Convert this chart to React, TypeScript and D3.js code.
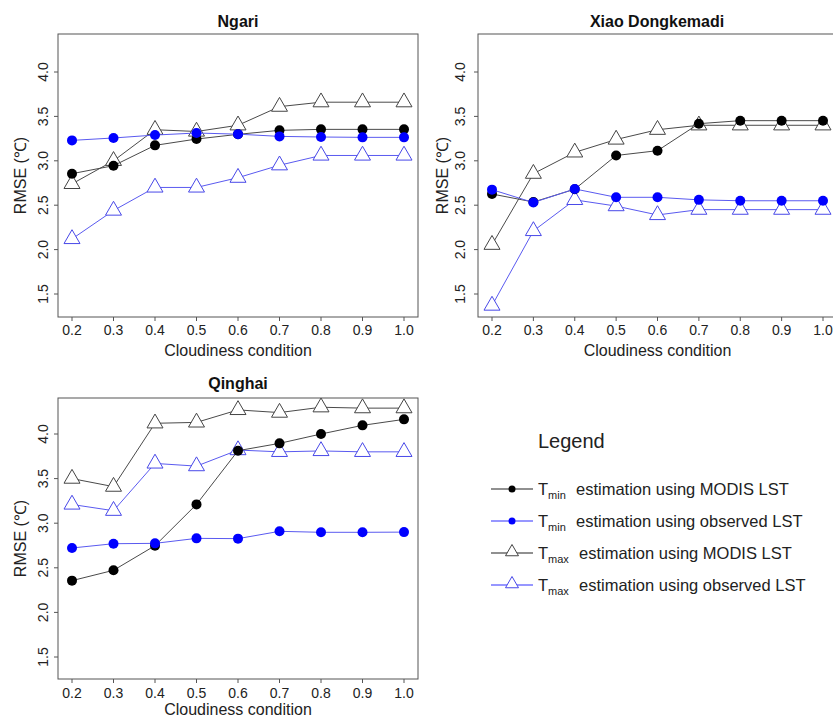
import React from "react";
import * as d3 from "d3";

const cloudiness = [0.2, 0.3, 0.4, 0.5, 0.6, 0.7, 0.8, 0.9, 1.0];
const xTickLabels = ["0.2", "0.3", "0.4", "0.5", "0.6", "0.7", "0.8", "0.9", "1.0"];
const yTicks = [1.5, 2.0, 2.5, 3.0, 3.5, 4.0];
const yTickLabels = ["1.5", "2.0", "2.5", "3.0", "3.5", "4.0"];

const panelTitles = ["Ngari", "Xiao Dongkemadi", "Qinghai"];

// Ngari
const ngariTminModis = [2.855, 2.945, 3.174, 3.245, 3.298, 3.343, 3.354, 3.354, 3.354];
const ngariTminObs = [3.23, 3.257, 3.29, 3.313, 3.3, 3.275, 3.268, 3.264, 3.264];
const ngariTmaxModis = [2.74, 3.0, 3.35, 3.33, 3.4, 3.61, 3.66, 3.66, 3.66];
const ngariTmaxObs = [2.12, 2.44, 2.7, 2.7, 2.81, 2.95, 3.06, 3.06, 3.06];

// Xiao Dongkemadi
const xiaoTminModis = [2.626, 2.536, 2.68, 3.06, 3.114, 3.418, 3.452, 3.452, 3.452];
const xiaoTminObs = [2.675, 2.53, 2.683, 2.589, 2.589, 2.56, 2.55, 2.55, 2.55];
const xiaoTmaxModis = [2.055, 2.855, 3.095, 3.24, 3.35, 3.4, 3.4, 3.4, 3.4];
const xiaoTmaxObs = [1.37, 2.21, 2.56, 2.49, 2.39, 2.45, 2.45, 2.45, 2.45];

// Qinghai
const qingTminModis = [2.356, 2.472, 2.748, 3.211, 3.813, 3.895, 4.0, 4.097, 4.164];
const qingTminObs = [2.722, 2.77, 2.774, 2.83, 2.827, 2.909, 2.898, 2.898, 2.9];
const qingTmaxModis = [3.5, 3.41, 4.12, 4.13, 4.27, 4.24, 4.3, 4.29, 4.29];
const qingTmaxObs = [3.21, 3.14, 3.67, 3.64, 3.82, 3.8, 3.81, 3.8, 3.8];

const legendSubs = ["min", "min", "max", "max"];
const legendTexts = [
  "estimation using MODIS LST",
  "estimation using observed LST",
  "estimation using MODIS LST",
  "estimation using observed LST",
];

const FONT = "Liberation Sans, Arial, Helvetica, sans-serif";
const BLACK_LINE = "#4a4a4a";
const BLUE_LINE = "#5a5af0";
const BLUE_FILL = "#0000ff";

type Layout = {
  boxL: number; boxR: number; boxT: number; boxB: number;
  x0: number; x1: number; y15: number; y40: number;
  tickLabelY: number; axisTitleY: number; titleY: number;
  yTickX: number; yTitleX: number;
};

const layouts: Layout[] = [
  { boxL: 58, boxR: 418, boxT: 34, boxB: 317, x0: 72, x1: 404, y15: 294, y40: 72, tickLabelY: 335, axisTitleY: 356, titleY: 27, yTickX: 43, yTitleX: 20 },
  { boxL: 478, boxR: 837, boxT: 34, boxB: 317, x0: 492, x1: 823, y15: 294, y40: 72, tickLabelY: 335, axisTitleY: 356, titleY: 27, yTickX: 460, yTitleX: 442 },
  { boxL: 58, boxR: 418, boxT: 398, boxB: 679, x0: 72, x1: 404, y15: 657, y40: 434, tickLabelY: 698, axisTitleY: 715, titleY: 389, yTickX: 43, yTitleX: 20 },
];

const panelData = [
  [ngariTminModis, ngariTminObs, ngariTmaxModis, ngariTmaxObs],
  [xiaoTminModis, xiaoTminObs, xiaoTmaxModis, xiaoTmaxObs],
  [qingTminModis, qingTminObs, qingTmaxModis, qingTmaxObs],
];

const triPath = (cx: number, cy: number, s: number) => {
  const h = s * 0.866;
  return `M${cx},${cy - (2 * h) / 3}L${cx + s / 2},${cy + h / 3}L${cx - s / 2},${cy + h / 3}Z`;
};

function Panel({ idx }: { idx: number }) {
  const L = layouts[idx];
  const x = d3.scaleLinear().domain([0.2, 1.0]).range([L.x0, L.x1]);
  const y = d3.scaleLinear().domain([1.5, 4.0]).range([L.y15, L.y40]);
  const line = d3
    .line<number>()
    .x((_, i) => x(cloudiness[i]))
    .y((d) => y(d));
  const [tminM, tminO, tmaxM, tmaxO] = panelData[idx];
  const cx = (L.boxL + L.boxR) / 2;
  const cy = (L.boxT + L.boxB) / 2;
  const titleCx = idx === 1 ? 657 : cx;
  return (
    <g>
      <text x={titleCx} y={L.titleY} textAnchor="middle" fontFamily={FONT} fontWeight="bold" fontSize={16} fill="#111">
        {panelTitles[idx]}
      </text>
      <rect x={L.boxL} y={L.boxT} width={L.boxR - L.boxL} height={L.boxB - L.boxT} fill="none" stroke="#555" strokeWidth={1} />
      {cloudiness.map((c, i) => (
        <g key={"xt" + i}>
          <line x1={x(c)} x2={x(c)} y1={L.boxB} y2={L.boxB + 4} stroke="#555" />
          <text x={x(c)} y={L.tickLabelY} textAnchor="middle" fontFamily={FONT} fontSize={14} fill="#222">
            {xTickLabels[i]}
          </text>
        </g>
      ))}
      {yTicks.map((t, i) => (
        <g key={"yt" + i}>
          <line x1={L.boxL - 4} x2={L.boxL} y1={y(t)} y2={y(t)} stroke="#555" />
          <text
            transform={`translate(${L.yTickX},${y(t)}) rotate(-90)`}
            textAnchor="middle"
            dy="0.35em"
            fontFamily={FONT}
            fontSize={14}
            fill="#222"
          >
            {yTickLabels[i]}
          </text>
        </g>
      ))}
      <text x={cx} y={L.axisTitleY} textAnchor="middle" fontFamily={FONT} fontSize={16} fill="#222">
        Cloudiness condition
      </text>
      <text
        transform={`translate(${L.yTitleX},${cy}) rotate(-90)`}
        textAnchor="middle"
        dy="0.35em"
        fontFamily={FONT}
        fontSize={16}
        fill="#222"
      >
        RMSE (℃)
      </text>
      {/* triangles */}
      <path d={line(tmaxM) || ""} fill="none" stroke={BLACK_LINE} strokeWidth={1} />
      {tmaxM.map((v, i) => (
        <path key={"tm" + i} d={triPath(x(cloudiness[i]), y(v), 16)} fill="white" stroke="#444" strokeWidth={1} />
      ))}
      <path d={line(tmaxO) || ""} fill="none" stroke={BLUE_LINE} strokeWidth={1} />
      {tmaxO.map((v, i) => (
        <path key={"to" + i} d={triPath(x(cloudiness[i]), y(v), 16)} fill="white" stroke="#4848e8" strokeWidth={1} />
      ))}
      {/* circles */}
      <path d={line(tminM) || ""} fill="none" stroke={BLACK_LINE} strokeWidth={1} />
      {tminM.map((v, i) => (
        <circle key={"cm" + i} cx={x(cloudiness[i])} cy={y(v)} r={5} fill="#000" />
      ))}
      <path d={line(tminO) || ""} fill="none" stroke={BLUE_LINE} strokeWidth={1} />
      {tminO.map((v, i) => (
        <circle key={"co" + i} cx={x(cloudiness[i])} cy={y(v)} r={5} fill={BLUE_FILL} />
      ))}
    </g>
  );
}

function Legend() {
  const rows = [489, 521, 553, 585];
  const lineColors = ["#222", "#3030ff", "#222", "#3030ff"];
  return (
    <g>
      <text x={538} y={448} fontFamily={FONT} fontSize={20} fill="#222">
        Legend
      </text>
      {rows.map((ry, i) => (
        <g key={i}>
          <line x1={491} x2={533} y1={ry} y2={ry} stroke={lineColors[i]} strokeWidth={1.2} />
          {i < 2 ? (
            <circle cx={512} cy={ry} r={3.5} fill={i === 0 ? "#000" : BLUE_FILL} />
          ) : (
            <path d={triPath(512, ry - 1, 13)} fill="white" stroke={i === 2 ? "#444" : "#4848e8"} strokeWidth={1} />
          )}
          <text x={538} y={ry + 6} fontFamily={FONT} fontSize={16.5} fill="#222">
            T
            <tspan dy={4} fontSize={11}>
              {legendSubs[i]}
            </tspan>
            <tspan x={i < 2 ? 576 : 579} dy={-4}>
              {legendTexts[i]}
            </tspan>
          </text>
        </g>
      ))}
    </g>
  );
}

export default function App() {
  return (
    <svg
      width={833}
      height={719}
      viewBox="0 0 833 719"
      style={{ position: "absolute", left: 0, top: 0, background: "white", overflow: "hidden" }}
    >
      <rect x={0} y={0} width={833} height={719} fill="white" />
      <Panel idx={0} />
      <Panel idx={1} />
      <Panel idx={2} />
      <Legend />
    </svg>
  );
}
